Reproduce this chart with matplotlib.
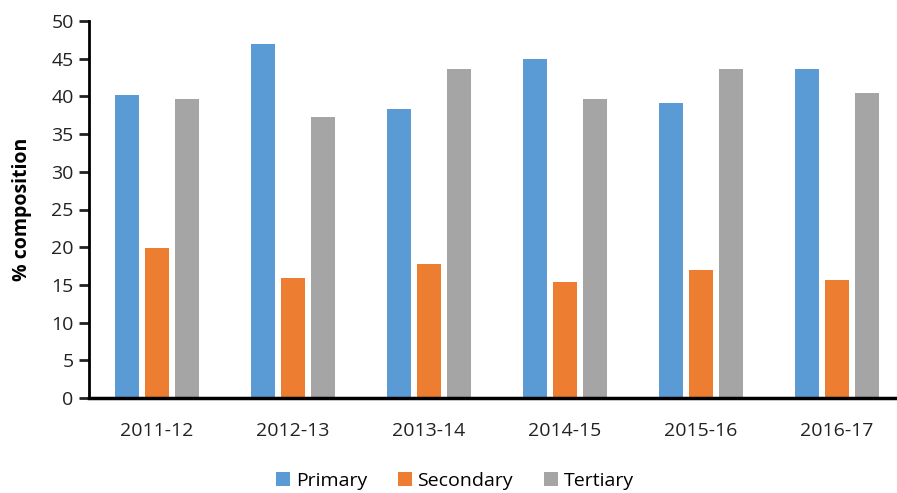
import numpy as np
import matplotlib
matplotlib.use("Agg")
from matplotlib import pyplot as plt

years = ["2011-12", "2012-13", "2013-14", "2014-15", "2015-16", "2016-17"]
primary = [40.2, 46.9, 38.3, 45.0, 39.1, 43.6]
secondary = [19.9, 15.9, 17.8, 15.4, 17.0, 15.7]
tertiary = [39.7, 37.3, 43.6, 39.7, 43.6, 40.5]

series_names = ["Primary", "Secondary", "Tertiary"]
colors = ["#5B9BD5", "#ED7D31", "#A5A5A5"]

plt.rcParams['font.family'] = ['Open Sans', 'DejaVu Sans']

fig = plt.figure(figsize=(8.97, 4.93), dpi=100)
# axes runs a bit past the right edge of the picture, like the original
ax = fig.add_axes([89/897, 1-398/493, 816/897, 377/493])

x = np.arange(len(years))
step = 0.224
width = 0.176
for k, (vals, name, col) in enumerate(zip([primary, secondary, tertiary], series_names, colors)):
	ax.bar(x + (k-1)*step, vals, width, color=col, label=name)

ax.set_xlim(-0.5, len(years)-0.5)
ax.set_ylim(0, 50)
ax.set_yticks(range(0, 51, 5))
ax.set_xticks(x)
ax.set_xticklabels(years)
ax.tick_params(axis='y', labelsize=14, length=7, width=2, direction='out', pad=4, colors='#222222')
ax.tick_params(axis='x', labelsize=14, length=0, pad=17, colors='#222222')
for s in ['top', 'right']:
	ax.spines[s].set_visible(False)
ax.spines['left'].set_linewidth(2)
ax.spines['bottom'].set_linewidth(2.5)
ax.set_ylabel("% composition", fontsize=14, fontweight='bold', labelpad=14)

ax.legend(loc='center', bbox_to_anchor=(455/897, 1-481/493), bbox_transform=fig.transFigure,
	ncol=3, frameon=False, fontsize=14, handlelength=0.7, handleheight=0.7,
	handletextpad=0.3, columnspacing=1.6)

fig.savefig("out.png", dpi=100)
